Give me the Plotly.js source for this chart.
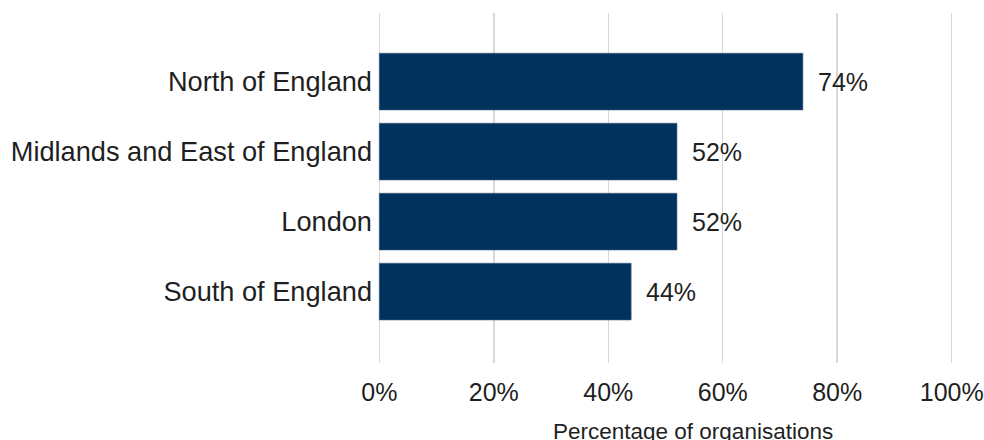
<!DOCTYPE html>
<html>
<head>
<meta charset="utf-8">
<script src="https://cdn.plot.ly/plotly-3.0.1.min.js"></script>
<style>
html,body{margin:0;padding:0;background:#fff;}
#chart{width:984px;height:440px;}
</style>
</head>
<body>
<div id="chart"></div>
<script>
var regions = ["North of England", "Midlands and East of England", "London", "South of England"];
var percentages = [74, 52, 52, 44];
var xTickValues = [0, 20, 40, 60, 80, 100];
var xTickLabels = ["0%", "20%", "40%", "60%", "80%", "100%"];
var xAxisTitle = "Percentage of organisations";

var FONT = "Liberation Sans, Arial, sans-serif";
var TXT = "#1f1f1f";

var trace = {
  type: "bar",
  orientation: "h",
  x: percentages,
  y: regions,
  width: 0.81,
  marker: {color: "#01325e", line: {color: "#3f5f80", width: 0.6}},
  hoverinfo: "none"
};

var annotations = percentages.map(function(v, i){
  return {
    x: v, y: regions[i], xref: "x", yref: "y",
    text: v + "%", showarrow: false, xanchor: "left", yanchor: "middle",
    xshift: 13, font: {family: FONT, size: 25, color: TXT}
  };
});
annotations.push({
  x: 0.548, y: 0, xref: "paper", yref: "paper",
  text: xAxisTitle, showarrow: false, xanchor: "center", yanchor: "top",
  yshift: -54, font: {family: FONT, size: 22.5, color: TXT}
});

var layout = {
  width: 984, height: 440,
  margin: {l: 376.7, r: 29.7, t: 13, b: 77, pad: 0},
  paper_bgcolor: "#ffffff", plot_bgcolor: "#ffffff",
  showlegend: false,
  font: {family: FONT, size: 25, color: TXT},
  xaxis: {
    range: [-0.4, 100.4], tickvals: xTickValues, ticktext: xTickLabels,
    showgrid: true, gridcolor: "#d8d8d8", gridwidth: 1.5,
    zeroline: false, showline: false, ticks: "",
    ticklabelstandoff: 12,
    tickfont: {family: FONT, size: 25, color: TXT},
    fixedrange: true
  },
  yaxis: {
    type: "category", categoryarray: regions, categoryorder: "array",
    range: [4.02, -0.98], autorange: false,
    showgrid: false, zeroline: false, showline: false, ticks: "",
    ticklabelstandoff: 4,
    tickfont: {family: FONT, size: 27.2, color: TXT},
    fixedrange: true
  },
  annotations: annotations
};

Plotly.newPlot("chart", [trace], layout, {displayModeBar: false, staticPlot: true});
</script>
</body>
</html>
